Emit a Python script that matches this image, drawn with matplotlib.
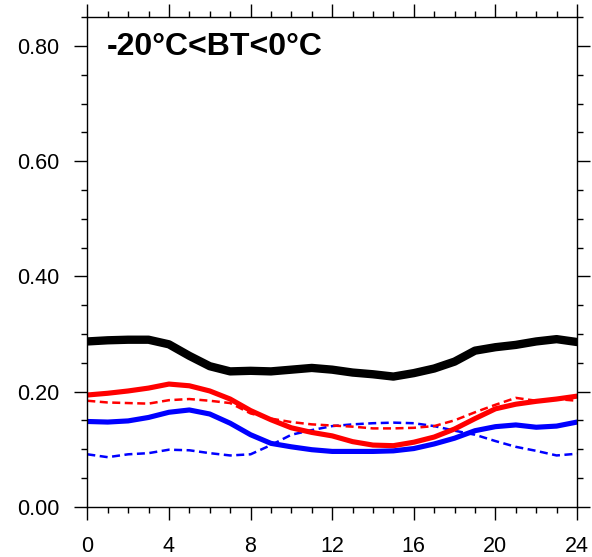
import matplotlib
matplotlib.use("Agg")
import matplotlib.pyplot as plt
from matplotlib.ticker import MultipleLocator, FormatStrFormatter

plt.rcParams['font.family'] = ['Liberation Sans', 'DejaVu Sans']

hours = list(range(25))
black_solid = [0.287, 0.289, 0.290, 0.290, 0.282, 0.262, 0.244, 0.235, 0.236, 0.235, 0.238, 0.241,
               0.238, 0.233, 0.230, 0.226, 0.232, 0.240, 0.252, 0.271, 0.277, 0.281, 0.287, 0.291, 0.286]
red_solid = [0.194, 0.197, 0.201, 0.206, 0.213, 0.210, 0.201, 0.187, 0.167, 0.151, 0.137, 0.129,
             0.123, 0.113, 0.107, 0.106, 0.112, 0.121, 0.135, 0.153, 0.170, 0.178, 0.183, 0.187, 0.192]
red_dashed = [0.184, 0.181, 0.180, 0.179, 0.185, 0.187, 0.184, 0.180, 0.162, 0.153, 0.147, 0.143,
              0.141, 0.139, 0.136, 0.136, 0.137, 0.140, 0.150, 0.164, 0.177, 0.189, 0.184, 0.187, 0.184]
blue_solid = [0.148, 0.147, 0.149, 0.155, 0.164, 0.168, 0.161, 0.145, 0.125, 0.110, 0.104, 0.099,
              0.096, 0.096, 0.096, 0.097, 0.101, 0.109, 0.119, 0.132, 0.139, 0.142, 0.138, 0.140, 0.147]
blue_dashed = [0.091, 0.086, 0.091, 0.093, 0.099, 0.098, 0.093, 0.089, 0.091, 0.107, 0.125, 0.133,
               0.140, 0.143, 0.145, 0.146, 0.145, 0.140, 0.132, 0.125, 0.114, 0.104, 0.097, 0.089, 0.092]

title_text = "-20°C<BT<0°C"

fig = plt.figure(figsize=(5.92, 5.57), dpi=100)
ax = fig.add_axes([0.1475, 0.0903, 0.8272, 0.8787])

ax.plot(hours, blue_dashed, color='#0000FF', lw=1.8, ls=(0, (3.2, 1.8)))
ax.plot(hours, red_dashed, color='#FF0000', lw=1.8, ls=(0, (3.2, 1.8)))
ax.plot(hours, blue_solid, color='#0000FF', lw=3.7, solid_capstyle='round')
ax.plot(hours, red_solid, color='#FF0000', lw=3.7, solid_capstyle='round')
ax.plot(hours, black_solid, color='black', lw=6.0, solid_capstyle='round')

ax.set_xlim(0, 24)
ax.set_ylim(0, 0.85)
ax.xaxis.set_major_locator(MultipleLocator(4))
ax.xaxis.set_minor_locator(MultipleLocator(1))
ax.yaxis.set_major_locator(MultipleLocator(0.2))
ax.yaxis.set_minor_locator(MultipleLocator(0.05))
ax.yaxis.set_major_formatter(FormatStrFormatter('%.2f'))

ax.tick_params(which='both', direction='out', top=True, right=True, width=1.0)
ax.tick_params(which='major', length=9.4, labelsize=15.5)
ax.tick_params(axis='x', which='major', pad=11.5)
ax.tick_params(axis='y', which='major', pad=10.5)
ax.tick_params(which='minor', length=4.5)
for s in ax.spines.values():
    s.set_linewidth(1.0)

ax.text(0.040, 0.939, title_text, transform=ax.transAxes, fontsize=23,
        fontweight='bold', ha='left', va='center')

fig.savefig('out.png', dpi=100)
